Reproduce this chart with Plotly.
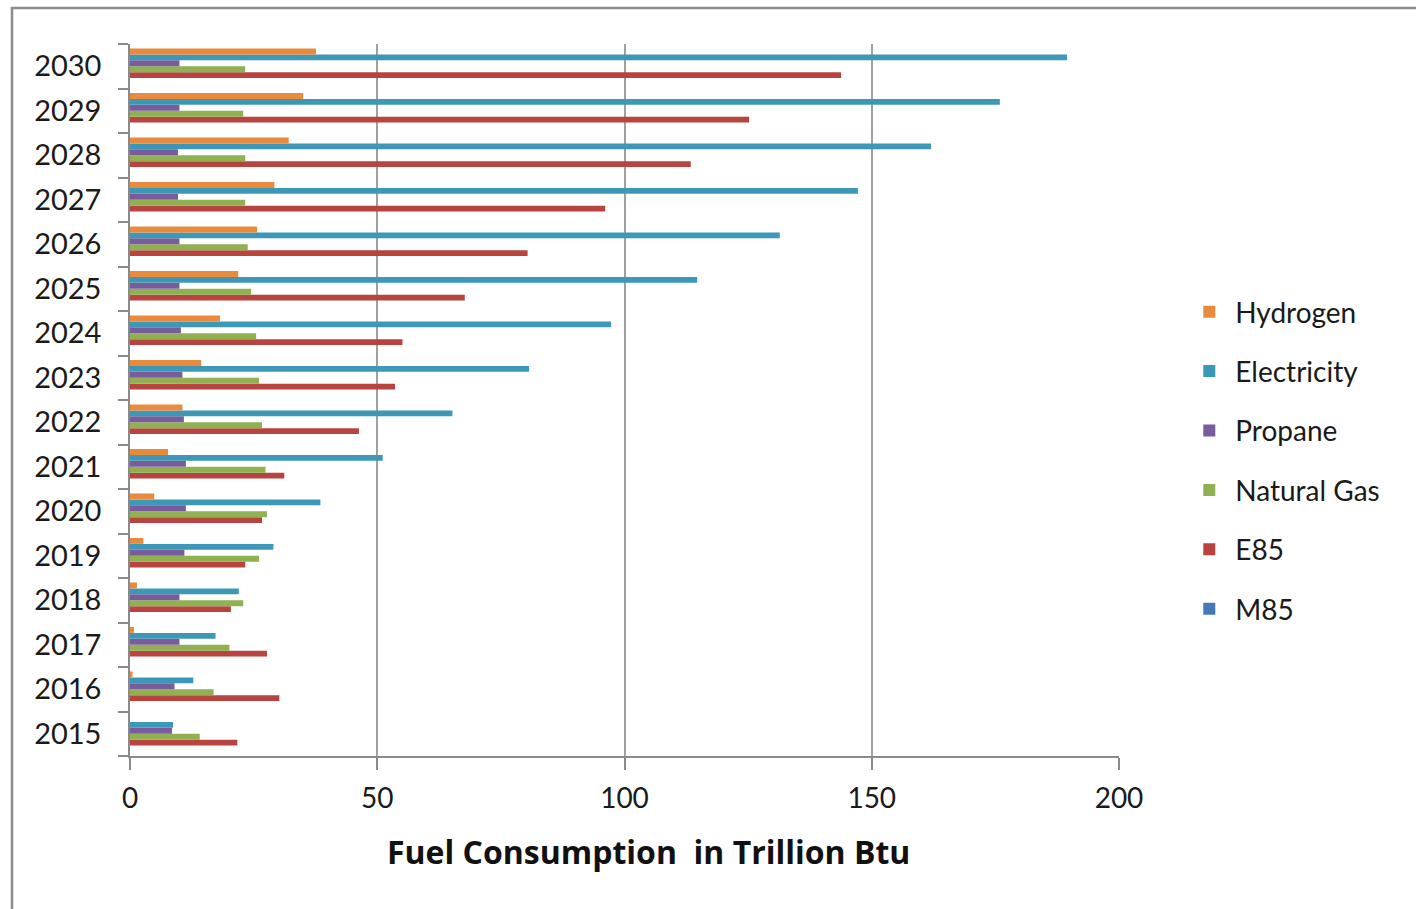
import plotly.graph_objects as go

years = [str(y) for y in range(2015, 2031)]

hydrogen = [0.0, 0.5, 0.8, 1.4, 2.7, 4.9, 7.7, 10.6, 14.4, 18.2, 21.9, 25.7, 29.2, 32.1, 35.0, 37.6]
electricity = [8.7, 12.8, 17.3, 22.0, 29.0, 38.5, 51.1, 65.2, 80.7, 97.3, 114.7, 131.4, 147.2, 162.0, 175.9, 189.5]
propane = [8.5, 9.0, 10.0, 10.0, 11.0, 11.3, 11.3, 10.9, 10.6, 10.3, 10.0, 10.0, 9.7, 9.7, 10.0, 10.0]
natural_gas = [14.1, 16.9, 20.1, 22.9, 26.1, 27.7, 27.4, 26.7, 26.1, 25.5, 24.5, 23.8, 23.3, 23.3, 22.9, 23.3]
e85 = [21.7, 30.2, 27.7, 20.4, 23.3, 26.7, 31.2, 46.3, 53.6, 55.1, 67.7, 80.4, 96.1, 113.4, 125.2, 143.8]
m85 = [0.0] * 16

x_ticks = [0, 50, 100, 150, 200]

# drawn bottom-to-top within each year group; legend rank puts Hydrogen first
series = [
    ("M85", m85, "#4677B8", 6),
    ("E85", e85, "#B9433F", 5),
    ("Natural Gas", natural_gas, "#8FB152", 4),
    ("Propane", propane, "#7A5C9C", 3),
    ("Electricity", electricity, "#3C98B6", 2),
    ("Hydrogen", hydrogen, "#EA8A3C", 1),
]

FONT = "Lato, 'Open Sans', sans-serif"
TFONT = "'Open Sans', Lato, sans-serif"

fig = go.Figure()
for name, vals, col, rank in series:
    fig.add_trace(go.Bar(
        y=years, x=vals, name=name, orientation="h",
        marker=dict(color=col, line=dict(width=0)),
        legendgroup=name, legendrank=rank,
    ))

fig.update_layout(
    width=1416, height=909,
    margin=dict(l=130, r=297, t=44, b=153),
    paper_bgcolor="white", plot_bgcolor="white",
    barmode="group", bargap=0.2, bargroupgap=0,
    font=dict(family=FONT, size=28, color="#1a1a1a"),
    legend=dict(
        traceorder="grouped", tracegroupgap=20,
        x=1.065, xanchor="left", y=0.415, yanchor="middle",
        itemwidth=42,
        font=dict(family=FONT, size=28, color="#1a1a1a"),
        bgcolor="rgba(0,0,0,0)", itemclick=False,
    ),
    xaxis=dict(
        range=[0, 200], tickvals=x_ticks, ticktext=[str(t) for t in x_ticks],
        showgrid=True, gridcolor="#a0a0a0", gridwidth=1.5,
        zeroline=False, showline=True, linecolor="#8a8a8a", linewidth=1.5,
        ticks="outside", ticklen=12, tickcolor="#8a8a8a", tickwidth=1.5,
        ticklabelstandoff=5,
        tickfont=dict(family=FONT, size=28, color="#1a1a1a"),
    ),
    yaxis=dict(
        type="category", categoryorder="array", categoryarray=years,
        showgrid=False, zeroline=False,
        showline=True, linecolor="#8a8a8a", linewidth=1.5,
        ticks="outside", tickson="boundaries", ticklen=10,
        tickcolor="#8a8a8a", tickwidth=1.5,
        ticklabelstandoff=21,
        tickfont=dict(family=FONT, size=29, color="#1a1a1a"),
    ),
    annotations=[dict(
        text="<b>Fuel Consumption  in Trillion Btu</b>",
        xref="paper", yref="paper", x=(648 - 130) / 989, y=(756 - 852) / 712,
        xanchor="center", yanchor="middle", showarrow=False,
        font=dict(family=TFONT, size=32, color="#111111"),
    )],
    shapes=[dict(
        type="rect", xref="paper", yref="paper",
        x0=(12 - 130) / 989, x1=1.5, y0=-0.4, y1=(756 - 8) / 712,
        line=dict(color="#8c8c8c", width=2.5), fillcolor="rgba(0,0,0,0)", layer="below",
    )],
)

fig.write_html("out.html")
